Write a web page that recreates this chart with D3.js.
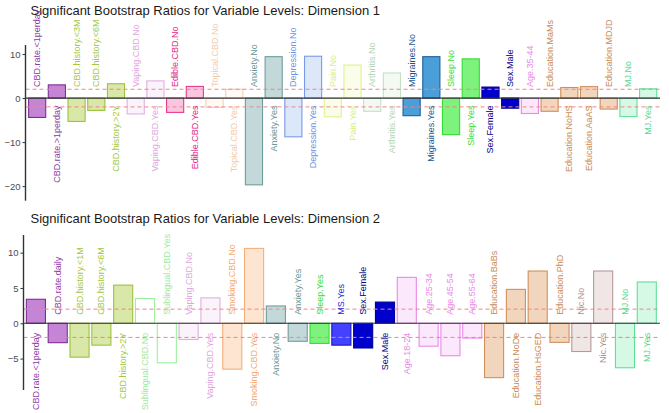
<!DOCTYPE html>
<html>
<head>
<meta charset="utf-8">
<script src="https://cdn.jsdelivr.net/npm/d3@7"></script>
<style>
  html, body { margin: 0; padding: 0; background: #fff; }
  svg { display: block; font-family: "Liberation Sans", Arial, sans-serif; }
</style>
</head>
<body>
<svg id="chart" width="669" height="413"></svg>
<script>
// ---- data ----
const dim1Title = "Significant Bootstrap Ratios for Variable Levels: Dimension 1";
const dim1Labels = [
  "CBD.rate.<1perday", "CBD.rate.>1perday",
  "CBD.history.<3M", "CBD.history.<6M", "CBD.history.>2Y",
  "Vaping.CBD.No", "Vaping.CBD.Yes",
  "Edible.CBD.No", "Edible.CBD.Yes",
  "Topical.CBD.No", "Topical.CBD.Yes",
  "Anxiety.No", "Anxiety.Yes",
  "Depression.No", "Depression.Yes",
  "Pain.No", "Pain.Yes",
  "Arthritis.No", "Arthritis.Yes",
  "Migraines.No", "Migraines.Yes",
  "Sleep.No", "Sleep.Yes",
  "Sex.Female", "Sex.Male",
  "Age.35-44",
  "Education.MaMs", "Education.NoHS", "Education.AaAS", "Education.MDJD",
  "MJ.No", "MJ.Yes"
];
const dim1Values = [
  -4.4, 3.0,
  -5.3, -2.8, 3.25,
  -3.6, 3.9,
  -3.25, 2.65,
  -2.1, 2.0,
  -19.7, 9.4,
  -8.8, 9.5,
  -4.25, 7.5,
  -3.0, 5.7,
  -4.0, 9.4,
  -8.3, 8.9,
  2.5, -2.3,
  -3.5,
  -3.0, 2.4, 2.6, -2.5,
  -4.2, 2.1
];
const dim1Ticks = [-20, -10, 0, 10];

const dim2Title = "Significant Bootstrap Ratios for Variable Levels: Dimension 2";
const dim2Labels = [
  "CBD.rate.<1perday", "CBD.rate.daily",
  "CBD.history.<1M", "CBD.history.<6M", "CBD.history.>2Y",
  "Sublingual.CBD.No", "Sublingual.CBD.Yes",
  "Vaping.CBD.No", "Vaping.CBD.Yes",
  "Smoking.CBD.No", "Smoking.CBD.Yes",
  "Anxiety.No", "Anxiety.Yes",
  "Sleep.Yes", "MS.Yes",
  "Sex.Female", "Sex.Male",
  "Age.18-24", "Age.25-34", "Age.45-54", "Age.55-64",
  "Education.BaBs", "Education.NoDe", "Education.HsGED", "Education.PhD",
  "Nic.No", "Nic.Yes",
  "MJ.No", "MJ.Yes"
];
const dim2Values = [
  3.4, -2.75,
  -4.8, -3.1, 5.4,
  3.5, -5.6,
  -2.3, 3.6,
  -6.5, 10.6,
  2.45, -2.55,
  -2.85, -3.1,
  -3.5, 3.0,
  6.5, -3.25, -4.6, -2.1,
  -7.7, 4.8, 7.4, -2.7,
  -4.0, 7.4,
  -6.3, 5.85
];
const dim2Ticks = [-5, 0, 5, 10];
const threshold = 2;

// ---- styles per variable ----
const palette = {
  "CBD.rate":       { stroke: "#7e2f93", fill: "#c585d6", text: "#8c3aa6" },
  "CBD.history":    { stroke: "#9ac43a", fill: "#d9e8a9", text: "#a2c83f" },
  "Vaping.CBD":     { stroke: "#e2aee2", fill: "#fbf3fb", text: "#e0a8e0" },
  "Edible.CBD":     { stroke: "#e8388f", fill: "#f9c6df", text: "#e4268a" },
  "Topical.CBD":    { stroke: "#f3cfae", fill: "#fffaf5", text: "#f3cba6" },
  "Sublingual.CBD": { stroke: "#9ef09e", fill: "#ffffff", text: "#9ee89e" },
  "Smoking.CBD":    { stroke: "#f4b07a", fill: "#fde5d2", text: "#f4aa70" },
  "Anxiety":        { stroke: "#6f9d9d", fill: "#c3d9d9", text: "#6a9696" },
  "Depression":     { stroke: "#7a9ae6", fill: "#dde7fa", text: "#6f90e4" },
  "Pain":           { stroke: "#ddf48c", fill: "#fafde9", text: "#d8f07a" },
  "Arthritis":      { stroke: "#c3e2c3", fill: "#f3f9f3", text: "#b5d6b5" },
  "Migraines":      { stroke: "#1f5f9e", fill: "#4b9fd9", text: "#1c5591" },
  "Sleep":          { stroke: "#33dd33", fill: "#7df27d", text: "#33dd33" },
  "Sex":            { stroke: "#00009a", fill: "#0000cc", text: "#00008b" },
  "MS":             { stroke: "#1616c8", fill: "#4343ff", text: "#2a2ad0" },
  "Age":            { stroke: "#e88ae8", fill: "#fce8fc", text: "#e88ae8" },
  "Education":      { stroke: "#d0905a", fill: "#f1d5bc", text: "#c98b55" },
  "Nic":            { stroke: "#b89898", fill: "#f1e6e6", text: "#b09090" },
  "MJ":             { stroke: "#5fe09a", fill: "#d6f9e6", text: "#55d891" }
};
const varOf = lab => lab.substring(0, lab.lastIndexOf("."));

const svg = d3.select("#chart");

function panel(cfg) {
  const g = svg.append("g");
  const y = d3.scaleLinear().domain(cfg.domain).range([cfg.bottom, cfg.top]);
  const x = d3.scaleBand()
    .domain(cfg.labels.map((d, i) => i))
    .range([cfg.left, cfg.right])
    .paddingInner(0.08).paddingOuter(0.04);

  // title
  g.append("text")
    .attr("x", 30.5).attr("y", cfg.titleY)
    .attr("font-size", 13).attr("fill", "#1a1a1a")
    .text(cfg.title);

  const data = cfg.labels.map((l, i) => ({ i, label: l, value: cfg.values[i], st: palette[varOf(l)] }));

  // bars
  g.selectAll("rect.bar").data(data).enter().append("rect")
    .attr("class", "bar")
    .attr("x", d => x(d.i) + 0.5)
    .attr("width", x.bandwidth() - 1)
    .attr("y", d => y(Math.max(0, d.value)))
    .attr("height", d => Math.abs(y(d.value) - y(0)))
    .attr("fill", d => d.st.fill)
    .attr("stroke", d => d.st.stroke)
    .attr("stroke-width", 1.1);

  // threshold lines
  [threshold, -threshold].forEach(t => {
    g.append("line")
      .attr("x1", cfg.axisX).attr("x2", cfg.lineEnd)
      .attr("y1", y(t)).attr("y2", y(t))
      .attr("stroke", "#f08585").attr("stroke-width", 1)
      .attr("stroke-dasharray", "4,3");
  });

  // zero line
  g.append("line")
    .attr("x1", cfg.axisX).attr("x2", cfg.lineEnd)
    .attr("y1", y(0)).attr("y2", y(0))
    .attr("stroke", "#333").attr("stroke-width", 1.2);

  // labels
  g.selectAll("text.lab").data(data).enter().append("text")
    .attr("class", "lab")
    .attr("transform", d => {
      const cx = x(d.i) + x.bandwidth() / 2;
      const cy = d.value < 0 ? y(0) - cfg.offUp : y(0) + cfg.offDown;
      return `translate(${cx},${cy}) rotate(-90)`;
    })
    .attr("text-anchor", d => d.value < 0 ? "start" : "end")
    .attr("dominant-baseline", "central")
    .attr("font-size", 9)
    .attr("fill", d => d.st.text)
    .text(d => d.label);

  // y axis
  const axis = d3.axisLeft(y).tickValues(cfg.ticks).tickSize(3).tickPadding(2);
  const ag = g.append("g").attr("transform", `translate(${cfg.axisX},0)`).call(axis);
  ag.select(".domain").attr("stroke", "#333").attr("stroke-width", 1.4)
    .attr("d", `M0,${cfg.top}V${cfg.bottom}`);
  ag.selectAll(".tick line").attr("stroke", "#333");
  ag.selectAll(".tick text").attr("font-size", 9.5).attr("fill", "#4d4d4d")
    .attr("font-family", "Liberation Sans, Arial, sans-serif");
}

panel({
  title: dim1Title, titleY: 15,
  labels: dim1Labels, values: dim1Values, ticks: dim1Ticks,
  domain: [-23.3, 12.05], top: 45, bottom: 200.7,
  left: 27.3, right: 658, axisX: 25.5, lineEnd: 660,
  offUp: 11, offDown: 7.5
});

panel({
  title: dim2Title, titleY: 223,
  labels: dim2Labels, values: dim2Values, ticks: dim2Ticks,
  domain: [-9.45, 12.5], top: 235, bottom: 390,
  left: 25, right: 657.7, axisX: 23.5, lineEnd: 660,
  offUp: 8.5, offDown: 9.5
});
</script>
</body>
</html>
